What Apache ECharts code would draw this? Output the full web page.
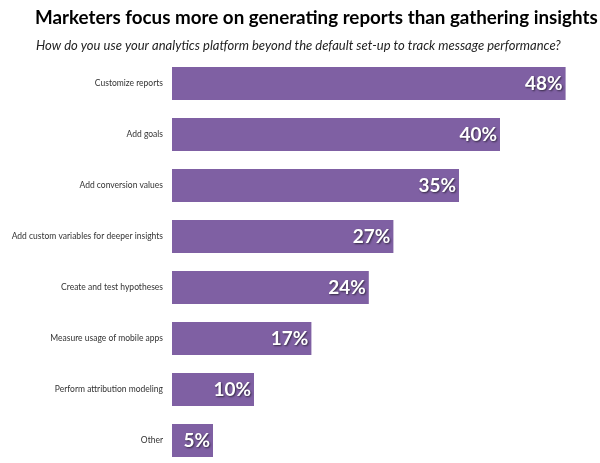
<!DOCTYPE html>
<html><head><meta charset="utf-8">
<script src="https://cdn.jsdelivr.net/npm/echarts@6/dist/echarts.min.js"></script>
<style>html,body{margin:0;padding:0;background:#fff}#c{width:600px;height:463px}</style>
</head><body><div id="c"></div>
<script>
const categories = ["Customize reports","Add goals","Add conversion values","Add custom variables for deeper insights","Create and test hypotheses","Measure usage of mobile apps","Perform attribution modeling","Other"];
const values = [48,40,35,27,24,17,10,5];
const titleText = "Marketers focus more on generating reports than gathering insights";
const subtitleText = "How do you use your analytics platform beyond the default set-up to track message performance?";
const chart = echarts.init(document.getElementById('c'));
chart.setOption({
  backgroundColor:'#fff',
  animation:false,
  title:[
    {text:titleText,left:35,top:8,padding:0,textStyle:{fontFamily:'Lato',fontWeight:'bold',fontSize:18.8,color:'#000'}},
    {text:subtitleText,left:36,top:39,padding:0,textStyle:{fontFamily:'Lato',fontStyle:'italic',fontWeight:'normal',fontSize:13,color:'#222'}}
  ],
  grid:{left:172,top:58,height:408,width:410,containLabel:false,outerBoundsMode:'none'},
  xAxis:{type:'value',min:0,max:50,show:false},
  yAxis:{type:'category',data:categories,inverse:true,
    axisLine:{show:false},axisTick:{show:false},
    axisLabel:{margin:9,fontFamily:'Lato',fontSize:8.5,color:'#333'}},
  series:[{type:'bar',data:values,barWidth:33,itemStyle:{color:'#7f60a3'},
    label:{show:true,position:'insideRight',offset:[2,0],formatter:p=>p.value+'%',
      color:'#fff',fontFamily:'Lato',fontWeight:'bold',fontSize:19,
      textShadowColor:'rgba(0,0,0,0.6)',textShadowBlur:2,textShadowOffsetX:1,textShadowOffsetY:1}}]
});
</script></body></html>
